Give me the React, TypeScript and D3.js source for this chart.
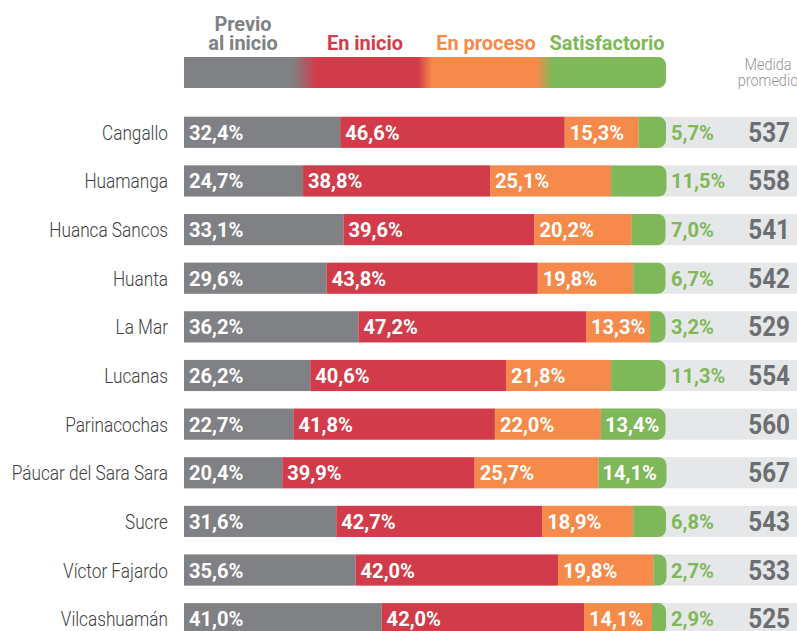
import React from "react";
import * as d3 from "d3";

const provinces = ["Cangallo","Huamanga","Huanca Sancos","Huanta","La Mar","Lucanas","Parinacochas","Páucar del Sara Sara","Sucre","Víctor Fajardo","Vilcashuamán"];
const previo = [32.4,24.7,33.1,29.6,36.2,26.2,22.7,20.4,31.6,35.6,41.0];
const enInicio = [46.6,38.8,39.6,43.8,47.2,40.6,41.8,39.9,42.7,42.0,42.0];
const enProceso = [15.3,25.1,20.2,19.8,13.3,21.8,22.0,25.7,18.9,19.8,14.1];
const satisfactorio = [5.7,11.5,7.0,6.7,3.2,11.3,13.4,14.1,6.8,2.7,2.9];
const medida = [537,558,541,542,529,554,560,567,543,533,525];
const levelNames = ["Previo al inicio","En inicio","En proceso","Satisfactorio"];

const W = 797, H = 631;
const colors = ["#808184", "#d23c4a", "#f58a4b", "#7fb859"];
const FONT = "Roboto, 'Liberation Sans', sans-serif";

type TProps = { x: number; y: number; sx?: number; anchor?: string; fill: string; size: number; weight?: number | string; children: React.ReactNode };
function T({ x, y, sx = 1, anchor = "start", fill, size, weight = 400, children }: TProps) {
  return (
    <text transform={`translate(${x},${y}) scale(${sx},1)`} textAnchor={anchor} fill={fill} fontSize={size} fontWeight={weight}>
      {children}
    </text>
  );
}

export default function App() {
  const x = d3.scaleLinear().domain([0, 100]).range([184, 666]);
  const y = d3.scaleBand().domain(provinces).range([108, 643]).paddingInner(0.36).paddingOuter(0.18);
  const bh = y.bandwidth();
  const fmt = (v: number) => v.toFixed(1).replace(".", ",") + "%";
  const r = 8;

  const rows = provinces.map((p, i) => {
    const vals = [previo[i], enInicio[i], enProceso[i], satisfactorio[i]];
    const starts = Array.from(d3.cumsum([0, ...vals.slice(0, 3)]));
    return { p, i, vals, starts };
  });

  const legendStops: [number, string][] = [
    [0, colors[0]], [0.225, colors[0]], [0.275, colors[1]], [0.485, colors[1]], [0.515, colors[2]], [0.73, colors[2]], [0.765, colors[3]], [1, colors[3]],
  ];
  const VS = 0.98; // value label condensation
  const LS = 0.95; // legend condensation

  return (
    <svg width={W} height={H} style={{ position: "absolute", left: 0, top: 0 }} fontFamily={FONT}>
      <defs>
        <linearGradient id="lg" x1="0" x2="1" y1="0" y2="0">
          {legendStops.map(([o, c], k) => <stop key={k} offset={o} stopColor={c} />)}
        </linearGradient>
      </defs>
      {/* legend */}
      <path d={`M${x(0)},57 H${x(100) - r} a${r},${r} 0 0 1 ${r},${r} V${88 - r} a${r},${r} 0 0 1 ${-r},${r} H${x(0)} Z`} fill="url(#lg)" />
      <T x={243} y={31} anchor="middle" fill={colors[0]} weight={700} size={21} sx={LS}>Previo</T>
      <T x={243} y={50} anchor="middle" fill={colors[0]} weight={700} size={21} sx={LS}>al inicio</T>
      <T x={365} y={50} anchor="middle" fill={colors[1]} weight={700} size={21} sx={LS}>{levelNames[1]}</T>
      <T x={486} y={50} anchor="middle" fill={colors[2]} weight={700} size={21} sx={LS}>{levelNames[2]}</T>
      <T x={607} y={50} anchor="middle" fill={colors[3]} weight={700} size={21} sx={LS}>{levelNames[3]}</T>
      <T x={768} y={70} anchor="middle" fill="#939598" weight={300} size={17} sx={0.85}>Medida</T>
      <T x={768} y={86} anchor="middle" fill="#939598" weight={300} size={17} sx={0.85}>promedio</T>

      {rows.map(({ p, i, vals, starts }) => {
        const y0 = y(p)!;
        const cy = y0 + bh / 2;
        const gx0 = x(starts[3]);
        const gx1 = x(starts[3] + vals[3]);
        const inside = vals[3] >= 12;
        return (
          <g key={p}>
            <rect x={x(0)} y={y0} width={W - x(0)} height={bh} fill="#e6e7e8" />
            {[0, 1, 2].map((k) => (
              <rect key={k} x={x(starts[k])} y={y0} width={x(starts[k] + vals[k]) - x(starts[k])} height={bh} fill={colors[k]} />
            ))}
            <path d={`M${gx0},${y0} H${gx1 - r} a${r},${r} 0 0 1 ${r},${r} V${y0 + bh - r} a${r},${r} 0 0 1 ${-r},${r} H${gx0} Z`} fill={colors[3]} />
            {[0, 1, 2].map((k) => (
              <T key={k} x={x(starts[k]) + 5} y={cy + 7.5} fill="#fff" weight={700} size={20.5} sx={VS}>{fmt(vals[k])}</T>
            ))}
            {inside ? (
              <T x={gx0 + 4} y={cy + 7.5} fill="#fff" weight={700} size={20.5} sx={VS}>{fmt(vals[3])}</T>
            ) : (
              <T x={671} y={cy + 7.5} fill={colors[3]} weight={700} size={20.5} sx={VS}>{fmt(vals[3])}</T>
            )}
            <T x={168} y={cy + 7.5} anchor="end" fill="#414042" weight={300} size={21} sx={0.82}>{p}</T>
            <T x={790} y={cy + 9.5} anchor="end" fill="#6d6e71" weight={700} size={27} sx={0.9}>{medida[i]}</T>
          </g>
        );
      })}
    </svg>
  );
}
